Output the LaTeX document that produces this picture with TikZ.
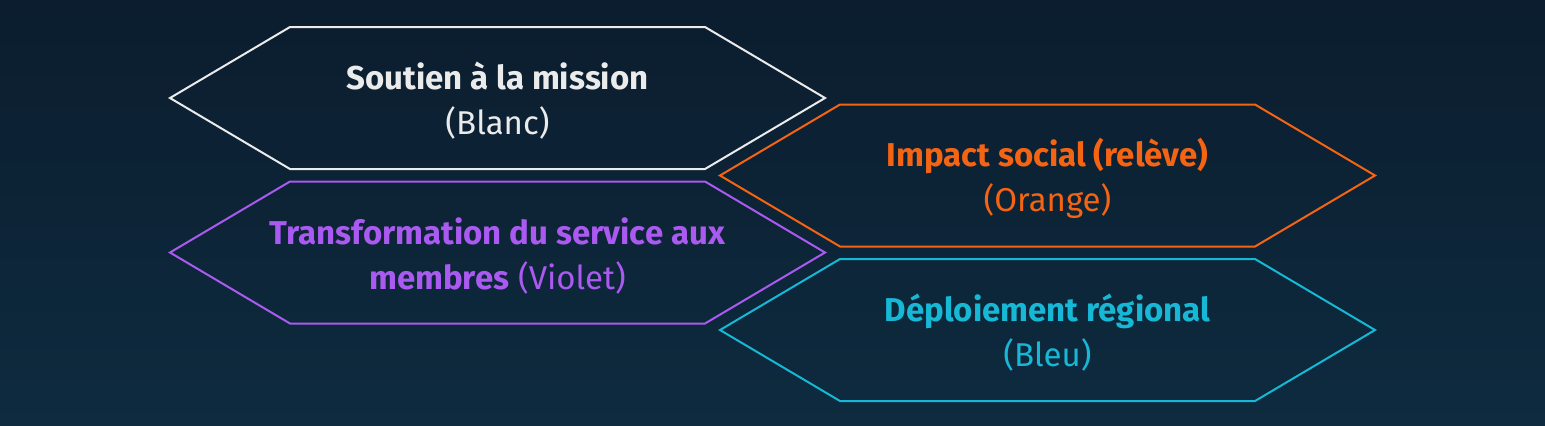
\documentclass[tikz,border=0pt]{standalone}
\usepackage{fontspec}
\setmainfont{Fira Sans}
\usepackage{tikz}
\usetikzlibrary{positioning,calc}
\definecolor{bgtop}{RGB}{11,29,46}
\definecolor{bgbottom}{RGB}{14,43,63}
\definecolor{hexwhite}{RGB}{235,235,235}
\definecolor{hexorange}{RGB}{245,100,18}
\definecolor{hexviolet}{RGB}{170,90,240}
\definecolor{hexblue}{RGB}{22,184,214}

%% hexagon drawn round a named node: #1 node, #2 colour
\newcommand{\hexaround}[2]{%
  \draw[hexline, draw=#2] ($(#1.center)+(-327.5,-3)$) -- ++(120,-71) -- ++(415,0)
      -- ++(120,71) -- ++(-120,71) -- ++(-415,0) -- cycle;}

\begin{document}
\begin{tikzpicture}[
      x=0.5pt, y=-0.5pt,
      hexline/.style={line width=1pt, line join=miter},
      hexlabel/.style={align=center, font=\fontsize{16.5}{22.5}\selectfont}
    ]
      \useasboundingbox (0,0) rectangle (1545,425);
      \shade[top color=bgtop, bottom color=bgbottom] (0,0) rectangle (1545,425);
      %% left column
      \node[hexlabel, text=hexwhite] (mission) at (497.5,101)
          {\textbf{Soutien à la mission}\\(Blanc)};
      \node[hexlabel, text=hexviolet] (membres) at (497.5,255.5)
          {\textbf{Transformation du service aux}\\\textbf{membres} (Violet)};
      %% right column
      \node[hexlabel, text=hexorange] (releve) at (1047.5,178.5)
          {\textbf{Impact social (relève)}\\(Orange)};
      \node[hexlabel, text=hexblue] (regional) at (1047.5,333)
          {\textbf{Déploiement régional}\\(Bleu)};
      \hexaround{mission}{hexwhite}
      \hexaround{membres}{hexviolet}
      \hexaround{releve}{hexorange}
      \hexaround{regional}{hexblue}
    \end{tikzpicture}
\end{document}
